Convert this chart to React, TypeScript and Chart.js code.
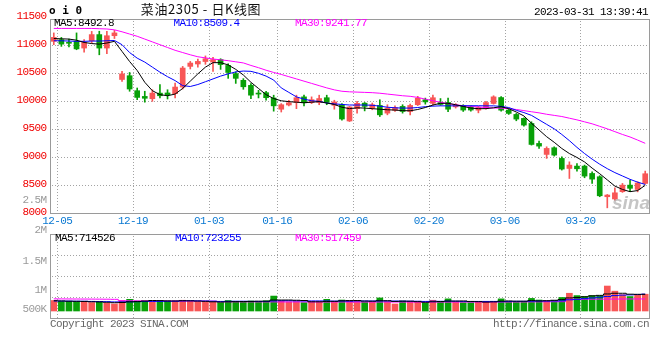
import React, { useEffect, useRef } from "react";
import { Chart, registerables } from "chart.js";

Chart.register(...registerables);

// ---------------- data ----------------
const dates = [
  "12-05", "12-06", "12-07", "12-08", "12-09", "12-12", "12-13", "12-14", "12-15", "12-16",
  "12-19", "12-20", "12-21", "12-22", "12-23", "12-26", "12-27", "12-28", "12-29", "12-30",
  "01-03", "01-04", "01-05", "01-06", "01-09", "01-10", "01-11", "01-12", "01-13", "01-16",
  "01-17", "01-18", "01-19", "01-20", "01-30", "01-31", "02-01", "02-02", "02-03", "02-06",
  "02-07", "02-08", "02-09", "02-10", "02-13", "02-14", "02-15", "02-16", "02-17", "02-20",
  "02-21", "02-22", "02-23", "02-24", "02-27", "02-28", "03-01", "03-02", "03-03", "03-06",
  "03-07", "03-08", "03-09", "03-10", "03-13", "03-14", "03-15", "03-16", "03-17", "03-20",
  "03-21", "03-22", "03-23", "03-24", "03-27", "03-28", "03-29", "03-30", "03-31",
];

const openP = [
  11060, 11090, 11040, 11060, 10940, 11070, 11180, 10940, 11160, 10380,
  10447, 10180, 10078, 10037, 10137, 10140, 10127, 10245, 10613, 10656,
  10700, 10690, 10735, 10630, 10485, 10365, 10275, 10135, 10145, 10050,
  9850, 9925, 9970, 10070, 9970, 9970, 10055, 9920, 9930, 9640,
  9860, 9958, 9870, 9917, 9780, 9830, 9900, 9810, 9930, 10018,
  9955, 9970, 9970, 9892, 9910, 9890, 9833, 9862, 9952, 10058,
  9834, 9757, 9686, 9596, 9240, 9044, 9163, 8973, 8794, 8836,
  8836, 8705, 8646, 8290, 8250, 8380, 8497, 8420, 8527,
];
const highP = [
  11210, 11130, 11100, 11210, 11090, 11237, 11240, 11237, 11255, 10525,
  10505, 10228, 10170, 10197, 10290, 10197, 10317, 10613, 10702, 10743,
  10800, 10775, 10750, 10660, 10515, 10395, 10305, 10187, 10170, 10100,
  9950, 10010, 10100, 10100, 10070, 10100, 10100, 10010, 9950, 9900,
  9990, 9970, 9960, 10018, 9930, 9910, 9930, 9940, 10080, 10048,
  10100, 10040, 10050, 9950, 9930, 9910, 9900, 9990, 10090, 10075,
  9850, 9775, 9697, 9626, 9281, 9180, 9180, 9002, 8912, 8883,
  8854, 8735, 8664, 8330, 8450, 8527, 8586, 8557, 8747,
];
const lowP = [
  11000, 10970, 10960, 10910, 10865, 11030, 10820, 10840, 11110, 10345,
  10170, 10020, 9975, 9990, 10050, 10032, 10050, 10210, 10567, 10600,
  10650, 10525, 10560, 10400, 10310, 10205, 10040, 10051, 10010, 9815,
  9800, 9910, 9860, 9910, 9950, 9930, 9930, 9850, 9655, 9630,
  9780, 9820, 9840, 9720, 9750, 9810, 9780, 9750, 9915, 9940,
  9920, 9920, 9805, 9870, 9810, 9815, 9785, 9850, 9940, 9815,
  9757, 9644, 9549, 9210, 9150, 8973, 9014, 8765, 8615, 8747,
  8628, 8527, 8290, 8092, 8230, 8367, 8379, 8377, 8515,
];
const closeP = [
  11130, 11010, 11025, 10925, 11040, 11180, 10940, 11160, 11210, 10480,
  10210, 10060, 10045, 10137, 10090, 10110, 10245, 10584, 10673, 10702,
  10750, 10735, 10645, 10505, 10400, 10250, 10100, 10120, 10055, 9910,
  9930, 9965, 10055, 9965, 10020, 10040, 9970, 9980, 9675, 9890,
  9955, 9900, 9930, 9750, 9870, 9880, 9810, 9917, 10045, 9980,
  10055, 9935, 9850, 9922, 9835, 9835, 9880, 9969, 10070, 9833,
  9775, 9674, 9567, 9222, 9192, 9151, 9032, 8783, 8854, 8788,
  8658, 8604, 8307, 8320, 8360, 8497, 8440, 8535, 8700,
];

const ma5 = [
  11110, 11105, 11100, 11080, 11040, 11020, 11010, 11030, 11060, 10880,
  10700, 10540, 10330, 10180, 10110, 10090, 10120, 10220, 10350, 10480,
  10600, 10680, 10680, 10640, 10560, 10460, 10330, 10220, 10110, 10040,
  10000, 9985, 9975, 9965, 9975, 9985, 9960, 9935, 9885, 9860,
  9875, 9870, 9860, 9850, 9840, 9835, 9825, 9822, 9845, 9880,
  9925, 9955, 9955, 9930, 9900, 9870, 9860, 9860, 9875, 9895,
  9860, 9800, 9730, 9600, 9480, 9360, 9260, 9150, 9060, 8990,
  8910, 8800, 8700, 8590, 8480, 8420, 8380, 8400, 8493,
];
const ma10 = [
  11070, 11070, 11065, 11060, 11060, 11065, 11065, 11070, 11075, 11000,
  10860, 10760, 10690, 10600, 10510, 10430, 10360, 10270, 10255, 10290,
  10340, 10390, 10440, 10480, 10515, 10530, 10525, 10490, 10440, 10370,
  10230, 10150, 10070, 10030, 10000, 9990, 9960, 9945, 9935, 9925,
  9925, 9925, 9920, 9905, 9885, 9875, 9870, 9870, 9880, 9895,
  9905, 9910, 9910, 9910, 9912, 9912, 9912, 9910, 9910, 9900,
  9880, 9830, 9790, 9740, 9660, 9580, 9500, 9400, 9290, 9170,
  9060, 8960, 8870, 8790, 8720, 8660, 8600, 8550, 8509,
];
const ma30 = [
  11290, 11290, 11290, 11290, 11290, 11290, 11285, 11280, 11265, 11230,
  11190, 11150, 11100, 11050, 11000, 10950, 10900, 10860, 10820, 10785,
  10765, 10745, 10730, 10715, 10695, 10675, 10630, 10590, 10545, 10505,
  10470, 10430, 10390, 10350, 10310, 10270, 10230, 10195, 10170, 10160,
  10155, 10150, 10145, 10135, 10120, 10105, 10090, 10080, 10060, 10030,
  10000, 9975, 9950, 9930, 9912, 9900, 9890, 9880, 9872, 9868,
  9860, 9845, 9825, 9805, 9785, 9760, 9740, 9720, 9690, 9660,
  9625, 9590, 9545, 9500, 9450, 9400, 9355, 9300, 9242,
];

const volume = [
  450000, 410000, 410000, 400000, 400000, 360000, 380000, 340000, 300000, 450000,
  500000, 430000, 440000, 420000, 430000, 440000, 420000, 460000, 420000, 390000,
  390000, 380000, 360000, 450000, 410000, 410000, 430000, 410000, 440000, 640000,
  420000, 390000, 400000, 360000, 410000, 390000, 500000, 410000, 470000, 450000,
  420000, 380000, 400000, 560000, 400000, 300000, 430000, 400000, 390000, 350000,
  460000, 400000, 520000, 390000, 360000, 360000, 400000, 400000, 410000, 520000,
  410000, 370000, 370000, 540000, 470000, 440000, 450000, 580000, 760000, 660000,
  620000, 660000, 650000, 1070000, 850000, 700000, 620000, 680000, 720000,
];
const volMa5 = [
  440000, 430000, 420000, 415000, 410000, 395000, 390000, 375000, 355000, 365000,
  395000, 405000, 425000, 450000, 445000, 430000, 430000, 440000, 435000, 425000,
  415000, 395000, 385000, 395000, 400000, 405000, 410000, 420000, 420000, 470000,
  470000, 470000, 460000, 450000, 395000, 395000, 410000, 415000, 435000, 445000,
  450000, 425000, 420000, 440000, 440000, 410000, 420000, 420000, 400000, 375000,
  395000, 405000, 425000, 425000, 430000, 410000, 400000, 380000, 390000, 420000,
  430000, 420000, 420000, 445000, 430000, 440000, 460000, 490000, 560000, 580000,
  610000, 650000, 670000, 730000, 760000, 760000, 720000, 715000, 714526,
];
const volMa10 = [
  430000, 428000, 425000, 420000, 418000, 410000, 405000, 400000, 390000, 390000,
  395000, 400000, 405000, 410000, 410000, 412000, 418000, 432000, 440000, 435000,
  428000, 420000, 410000, 415000, 418000, 418000, 412000, 410000, 410000, 432000,
  440000, 440000, 435000, 430000, 432000, 432000, 430000, 425000, 428000, 420000,
  430000, 430000, 428000, 430000, 428000, 428000, 422000, 420000, 418000, 410000,
  420000, 415000, 422000, 420000, 410000, 405000, 410000, 410000, 410000, 400000,
  410000, 415000, 415000, 420000, 425000, 425000, 430000, 435000, 480000, 500000,
  530000, 560000, 590000, 620000, 660000, 680000, 690000, 705000, 723255,
];
const volMa30 = [
  520000, 518000, 516000, 514000, 512000, 510000, 508000, 505000, 500000, 440000,
  438000, 436000, 434000, 432000, 430000, 430000, 428000, 426000, 425000, 424000,
  423000, 422000, 395000, 394000, 393000, 392000, 392000, 391000, 390000, 390000,
  389000, 389000, 388000, 388000, 387000, 387000, 386000, 386000, 386000, 385000,
  385000, 385000, 384000, 384000, 384000, 383000, 383000, 383000, 383000, 382000,
  382000, 382000, 382000, 382000, 383000, 383000, 384000, 384000, 385000, 386000,
  387000, 388000, 389000, 390000, 392000, 394000, 396000, 398000, 500000, 502000,
  504000, 506000, 508000, 510000, 512000, 514000, 515000, 516000, 517459,
];

const priceGridValues = [8500, 9000, 9500, 10000, 10500, 11000];
const priceLabelValues = [8000, 8500, 9000, 9500, 10000, 10500, 11000, 11500];
const dateTicks = ["12-05", "12-19", "01-03", "01-16", "02-06", "02-20", "03-06", "03-20"];
const volAxisLabels = ["2.5M", "2M", "1.5M", "1M", "500K"];

const titleText = "菜油2305 - 日K线图";
const stampText = "2023-03-31 13:39:41";
const priceLegend = ["MA5:8492.8", "MA10:8509.4", "MA30:9241.77"];
const volLegend = ["MA5:714526", "MA10:723255", "MA30:517459"];
const footerLeft = "Copyright 2023 SINA.COM";
const footerRight = "http://finance.sina.com.cn";

// ---------------- styling ----------------
const RED = "#f85656";
const GREEN = "#08a008";
const MONO = "'Liberation Mono', 'DejaVu Sans Mono', monospace";
const GRID = "#a3a3a3";
const FRAME = "#9a9a9a";

function drawText(
  ctx: CanvasRenderingContext2D,
  s: string,
  x: number,
  y: number,
  color: string,
  align: CanvasTextAlign = "left",
  font = `11px ${MONO}`,
  spacing = "-0.6px"
) {
  ctx.save();
  ctx.font = font;
  ctx.fillStyle = color;
  ctx.textAlign = align;
  ctx.textBaseline = "middle";
  (ctx as any).letterSpacing = spacing;
  ctx.fillText(s, x, y);
  ctx.restore();
}

function hDots(ctx: CanvasRenderingContext2D, x1: number, x2: number, y: number) {
  const yy = Math.round(y);
  for (let x = Math.round(x1) + 2; x < x2; x += 3) ctx.fillRect(x, yy, 1, 1);
}
function vDots(ctx: CanvasRenderingContext2D, x: number, y1: number, y2: number) {
  const xx = Math.round(x);
  for (let y = Math.round(y1) + 2; y < y2; y += 3) ctx.fillRect(xx, y, 1, 1);
}
function frame(ctx: CanvasRenderingContext2D, a: any) {
  const l = Math.round(a.left), r = Math.round(a.right), t = Math.round(a.top), b = Math.round(a.bottom);
  ctx.fillStyle = FRAME;
  ctx.fillRect(l, t, r - l + 1, 1);
  ctx.fillRect(l, b, r - l + 1, 1);
  ctx.fillRect(l, t, 1, b - t + 1);
  ctx.fillRect(r, t, 1, b - t + 1);
}
function dateGridX(scale: any, d: string) {
  return scale.getPixelForValue(dates.indexOf(d)) + 3.5;
}

const pricePanel = {
  id: "pricePanel",
  beforeDatasetsDraw(chart: any) {
    const { ctx, chartArea: a, scales } = chart;
    ctx.save();
    ctx.fillStyle = GRID;
    for (const v of priceGridValues) hDots(ctx, a.left, a.right, scales.y.getPixelForValue(v));
    for (const d of dateTicks) vDots(ctx, dateGridX(scales.x, d), a.top, a.bottom);
    ctx.restore();
  },
  afterDatasetsDraw(chart: any) {
    const { ctx, chartArea: a } = chart;
    ctx.save();
    ctx.font = "italic bold 19px 'Liberation Sans', Arial, sans-serif";
    ctx.fillStyle = "rgba(150,150,150,0.55)";
    ctx.textAlign = "right";
    ctx.textBaseline = "alphabetic";
    ctx.fillText("sina", a.right + 1, a.bottom - 4);
    ctx.restore();
  },
  afterDraw(chart: any) {
    const { ctx, chartArea: a, scales } = chart;
    ctx.save();
    frame(ctx, a);
    // header
    drawText(ctx, "o i 0", 49, 11, "#000", "left", `bold 11px 'DejaVu Sans Mono', monospace`, "0px");
    drawText(ctx, titleText, 201, 9, "#111", "center", "13px 'Noto Sans CJK SC', sans-serif", "0.6px");
    drawText(ctx, stampText, 648, 12, "#000", "right");
    // legend
    drawText(ctx, priceLegend[0], 54, 23.5, "#000");
    drawText(ctx, priceLegend[1], 173.5, 23.5, "#0000ff");
    drawText(ctx, priceLegend[2], 295, 23.5, "#ff00ff");
    // y labels
    for (const v of priceLabelValues) {
      drawText(ctx, String(v), 46.5, scales.y.getPixelForValue(v) - 1, "#f00000", "right");
    }
    // date labels
    for (const d of dateTicks) {
      drawText(ctx, d, dateGridX(scales.x, d), 221.5, "#0a78d2", "center");
    }
    ctx.restore();
  },
};

const volPanel = {
  id: "volPanel",
  beforeDatasetsDraw(chart: any) {
    const { ctx, chartArea: a, scales } = chart;
    ctx.save();
    ctx.fillStyle = GRID;
    const h = a.bottom - a.top;
    for (let k = 1; k < 4; k++) hDots(ctx, a.left, a.right, a.top + (h * k) / 4);
    for (const d of dateTicks) vDots(ctx, dateGridX(scales.x, d), a.top, a.bottom);
    ctx.restore();
  },
  afterDraw(chart: any) {
    const { ctx, chartArea: a } = chart;
    ctx.save();
    frame(ctx, a);
    drawText(ctx, volLegend[0], 55, 238.5, "#000");
    drawText(ctx, volLegend[1], 175, 238.5, "#0000ff");
    drawText(ctx, volLegend[2], 295, 238.5, "#ff00ff");
    const ys = [200.5, 230, 261, 290, 309.5];
    volAxisLabels.forEach((t, k) => drawText(ctx, t, 46.5, ys[k], "#9a9a9a", "right"));
    drawText(ctx, footerLeft, 50, 324.5, "#666");
    drawText(ctx, footerRight, 649, 324.5, "#666", "right");
    ctx.restore();
  },
};

export default function App() {
  const priceRef = useRef<HTMLCanvasElement>(null);
  const volRef = useRef<HTMLCanvasElement>(null);

  useEffect(() => {
    const colors = closeP.map((c, i) => (c >= openP[i] ? RED : GREEN));
    const lineDs = (label: string, data: number[], color: string, extra: any = {}) => ({
      type: "line" as const,
      label,
      data,
      borderColor: color,
      backgroundColor: color,
      borderWidth: 1,
      pointRadius: 0,
      tension: 0,
      fill: false,
      order: 0,
      ...extra,
    });

    const price = new Chart(priceRef.current as HTMLCanvasElement, {
      type: "bar",
      data: {
        labels: dates,
        datasets: [
          lineDs("MA5", ma5, "#000000"),
          lineDs("MA10", ma10, "#0000ff"),
          lineDs("MA30", ma30, "#ff00ff"),
          {
            type: "bar",
            label: "body",
            data: openP.map((o, i) => [o, closeP[i]]),
            backgroundColor: colors,
            borderWidth: 0,
            barThickness: 5,
            minBarLength: 1,
            grouped: false,
            order: 1,
          } as any,
          {
            type: "bar",
            label: "wick",
            data: lowP.map((l, i) => [l, highP[i]]),
            backgroundColor: colors,
            borderWidth: 0,
            barThickness: 1,
            grouped: false,
            order: 2,
          } as any,
        ],
      },
      options: {
        responsive: false,
        animation: false,
        events: [],
        layout: { padding: { left: 50, right: 11, top: 19, bottom: 147 } },
        plugins: { legend: { display: false }, tooltip: { enabled: false } },
        scales: {
          x: { display: false, offset: true },
          y: { display: false, min: 8000, max: 11458 },
        },
      } as any,
      plugins: [pricePanel],
    });

    const vol = new Chart(volRef.current as HTMLCanvasElement, {
      type: "bar",
      data: {
        labels: dates,
        datasets: [
          lineDs("VMA5", volMa5, "#000000", { stepped: "middle" }),
          lineDs("VMA10", volMa10, "#0000ff", { stepped: "middle" }),
          lineDs("VMA30", volMa30, "#ff00ff", { stepped: "middle" }),
          {
            type: "bar",
            label: "volume",
            data: volume,
            backgroundColor: colors,
            borderWidth: 0,
            barThickness: 6,
            grouped: false,
            order: 1,
          } as any,
        ],
      },
      options: {
        responsive: false,
        animation: false,
        events: [],
        layout: { padding: { left: 50, right: 11, top: 234, bottom: 42 } },
        plugins: { legend: { display: false }, tooltip: { enabled: false } },
        scales: {
          x: { display: false, offset: true },
          y: { display: false, min: -300000, max: 3300000 },
        },
      } as any,
      plugins: [volPanel],
    });

    return () => {
      price.destroy();
      vol.destroy();
    };
  }, []);

  return (
    <div style={{ position: "absolute", left: 0, top: 0, width: 660, height: 360, background: "#fff" }}>
      <canvas ref={priceRef} width={660} height={360} style={{ position: "absolute", left: 0, top: 0 }} />
      <canvas ref={volRef} width={660} height={360} style={{ position: "absolute", left: 0, top: 0 }} />
    </div>
  );
}
